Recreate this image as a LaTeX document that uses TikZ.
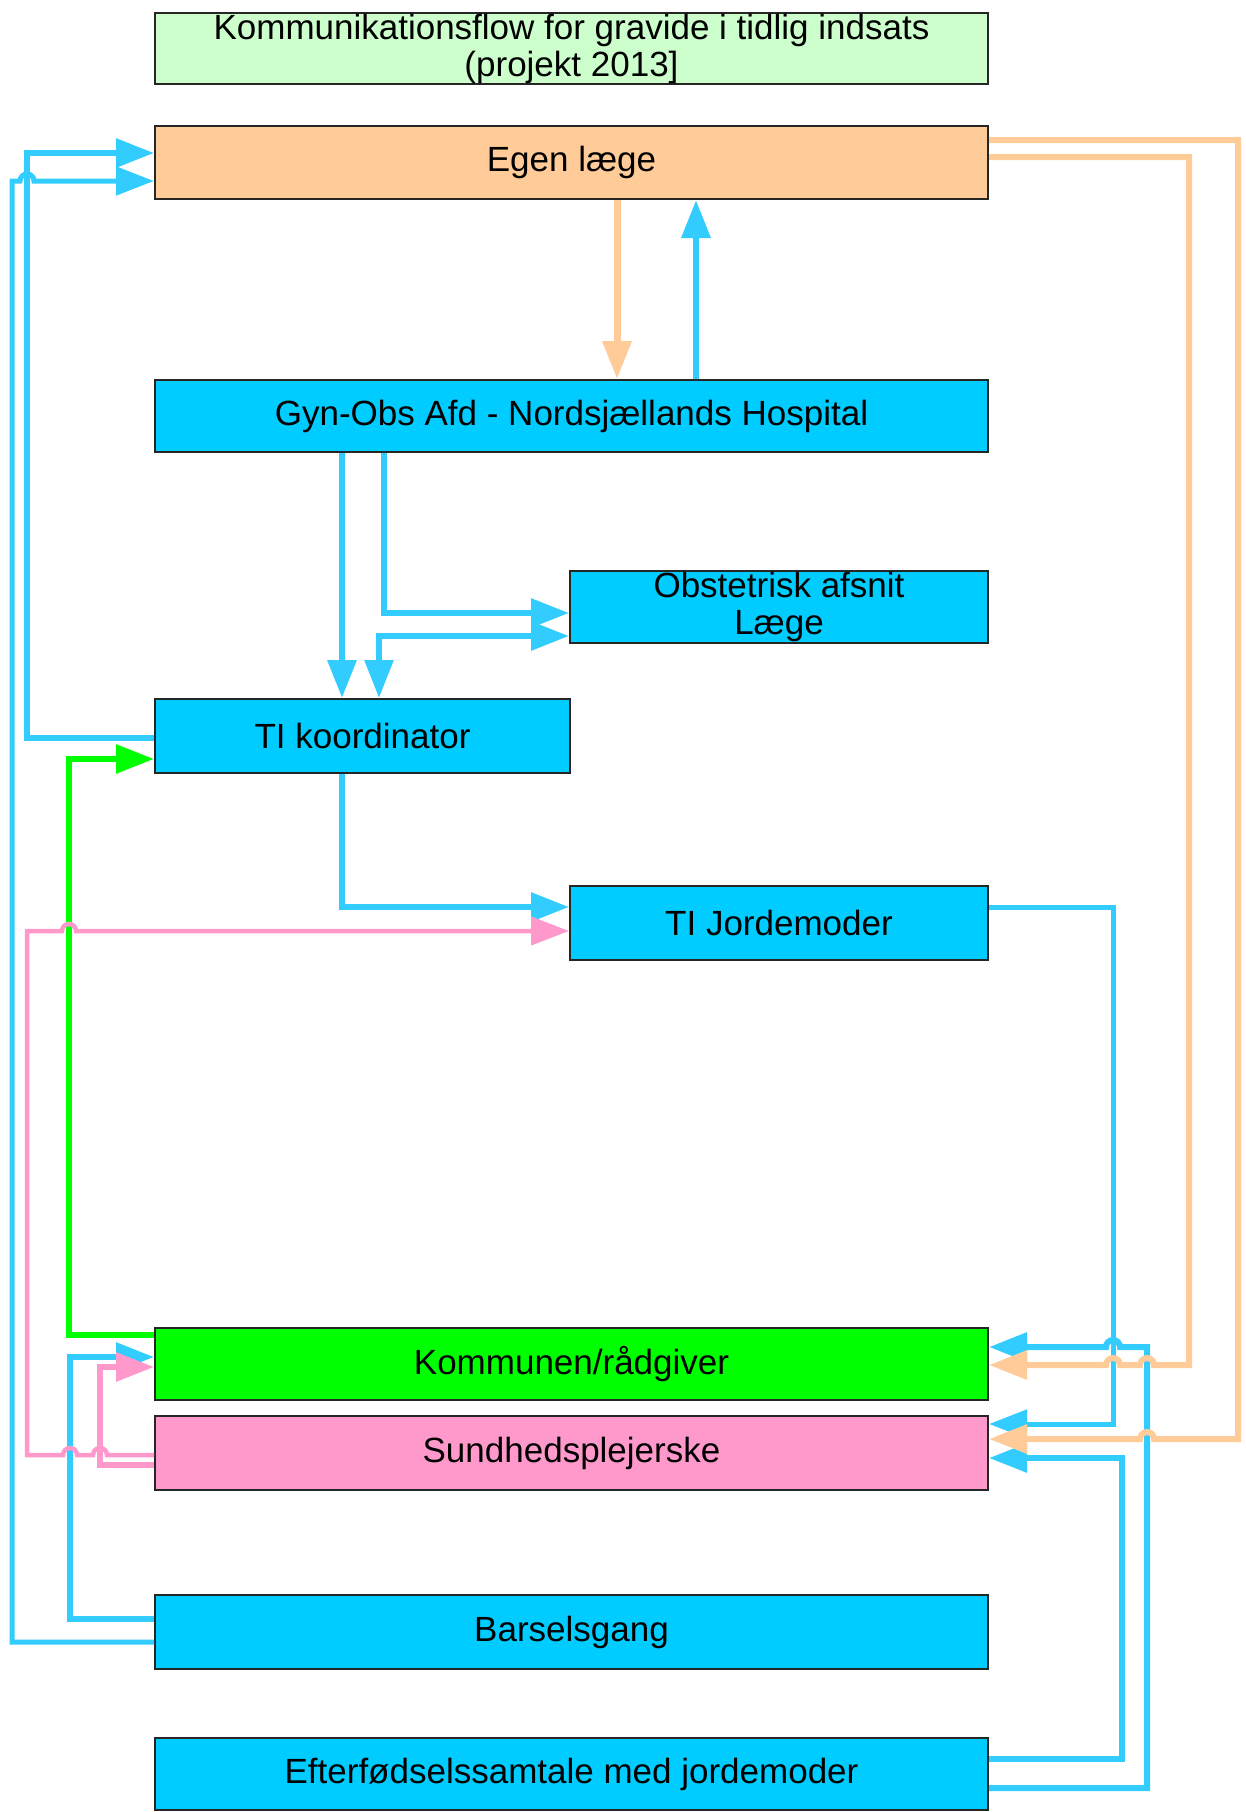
\documentclass[tikz,border=0pt]{standalone}
\usepackage{fontspec}
\setmainfont{Liberation Sans}
\usetikzlibrary{arrows.meta}
\definecolor{tgreen}{HTML}{CCFFCC}
\definecolor{peach}{HTML}{FFCC99}
\definecolor{boxblue}{HTML}{00CCFF}
\definecolor{lineblue}{HTML}{33CCFF}
\definecolor{kgreen}{HTML}{00FF00}
\definecolor{pinkc}{HTML}{FF99CC}
\tikzset{
  box/.style={draw=black!85, line width=2pt, anchor=north west, inner sep=0pt,
    align=center, font=\fontsize{35}{37}\selectfont},
  tip/.style={-{Triangle[length=38pt,width=28pt]}},
  cblue/.style={draw=lineblue, line width=6pt, tip},
  corange/.style={draw=peach, line width=6pt, tip},
  cpink/.style={draw=pinkc, line width=5pt, tip},
  cgreen/.style={draw=kgreen, line width=6pt, tip},
}
\begin{document}
\begin{tikzpicture}[x=1pt,y=-1pt]
\useasboundingbox (0,0) rectangle (1245,1812);
% boxes
\node[box, fill=tgreen, minimum width=833pt, minimum height=71pt] (title) at (154,12)
  {Kommunikationsflow for gravide i tidlig indsats\\(projekt 2013]};
\node[box, fill=peach, minimum width=833pt, minimum height=73pt] (egen) at (154,125) {Egen læge};
\node[box, fill=boxblue, minimum width=833pt, minimum height=72pt] (gyn) at (154,379) {Gyn-Obs Afd - Nordsjællands Hospital};
\node[box, fill=boxblue, minimum width=418pt, minimum height=72pt] (obst) at (569,570) {Obstetrisk afsnit\\Læge};
\node[box, fill=boxblue, minimum width=415pt, minimum height=74pt] (tik) at (154,698) {TI koordinator};
\node[box, fill=boxblue, minimum width=418pt, minimum height=74pt] (tij) at (569,885) {TI Jordemoder};
\node[box, fill=kgreen, minimum width=833pt, minimum height=72pt] (komm) at (154,1327) {Kommunen/rådgiver};
\node[box, fill=pinkc, minimum width=833pt, minimum height=74pt] (sund) at (154,1415) {Sundhedsplejerske};
\node[box, fill=boxblue, minimum width=833pt, minimum height=74pt] (bars) at (154,1594) {Barselsgang};
\node[box, fill=boxblue, minimum width=833pt, minimum height=72pt] (eft) at (154,1737) {Efterfødselssamtale med jordemoder};

% Egen laege <-> Gyn-Obs
\draw[corange, line width=7pt] (617,0 |- egen.south) -- (617,0 |- gyn.north);
\draw[cblue, line width=6.5pt] (696,0 |- gyn.north) -- (696,0 |- egen.south);
% Gyn-Obs -> TI koordinator, Obstetrisk
\draw[cblue, line width=6.5pt] (342,0 |- gyn.south) -- (342,0 |- tik.north);
\draw[cblue] (384,0 |- gyn.south) -- (384,613) -- (obst.west |- 0,613);
\draw[cblue, {Triangle[length=38pt,width=28pt]}-{Triangle[length=38pt,width=28pt]}]
  (obst.west |- 0,636) -- (379,636) -- (379,0 |- tik.north);
% TI koordinator -> TI Jordemoder
\draw[cblue] (342,0 |- tik.south) -- (342,907) -- (tij.west |- 0,907);
% TI koordinator -> Egen laege
\draw[cblue] (tik.west |- 0,738) -- (27,738) -- (27,153) -- (egen.west |- 0,153);
% Barselsgang -> Egen laege
\draw[cblue, line width=5pt] (bars.west |- 0,1642) -- (12,1642) -- (12,181) -- (20,181)
  arc[start angle=180, end angle=360, radius=7] -- (egen.west |- 0,181);
% Barselsgang -> Kommunen
\draw[cblue] (bars.west |- 0,1619) -- (70,1619) -- (70,1357) -- (komm.west |- 0,1357);
% Kommunen -> TI koordinator (green)
\draw[cgreen] (komm.west |- 0,1335) -- (69,1335) -- (69,759) -- (tik.west |- 0,759);
% Sundhedsplejerske -> TI Jordemoder (pink)
\draw[cpink, line width=4.5pt] (sund.west |- 0,1455) -- (107,1455)
  arc[start angle=0, end angle=-180, radius=7] -- (77,1455)
  arc[start angle=0, end angle=-180, radius=7] -- (27,1455) -- (27,931) -- (62,931)
  arc[start angle=180, end angle=360, radius=7] -- (tij.west |- 0,931);
% Sundhedsplejerske -> Kommunen (pink)
\draw[cpink, line width=6pt] (sund.west |- 0,1465) -- (100,1465) -- (100,1367) -- (komm.west |- 0,1367);
% TI Jordemoder -> Sundhedsplejerske
\draw[cblue, line width=5pt] (tij.east |- 0,907) -- (1113,907) -- (1113,1424) -- (sund.east |- 0,1424);
% Efterfodsel -> Kommunen
\draw[cblue] (eft.east |- 0,1788) -- (1147,1788) -- (1147,1347) -- (1120,1347)
  arc[start angle=0, end angle=-180, radius=7] -- (komm.east |- 0,1347);
% Efterfodsel -> Sundhedsplejerske
\draw[cblue] (eft.east |- 0,1759) -- (1122,1759) -- (1122,1458) -- (sund.east |- 0,1458);
% Egen laege -> Kommunen (orange)
\draw[corange] (egen.east |- 0,157) -- (1189,157) -- (1189,1365) -- (1154,1365)
  arc[start angle=0, end angle=-180, radius=7] -- (1120,1365)
  arc[start angle=0, end angle=-180, radius=7] -- (komm.east |- 0,1365);
% Egen laege -> Sundhedsplejerske (orange)
\draw[corange] (egen.east |- 0,140) -- (1238,140) -- (1238,1439) -- (1154,1439)
  arc[start angle=0, end angle=-180, radius=7] -- (sund.east |- 0,1439);
\end{tikzpicture}
\end{document}
